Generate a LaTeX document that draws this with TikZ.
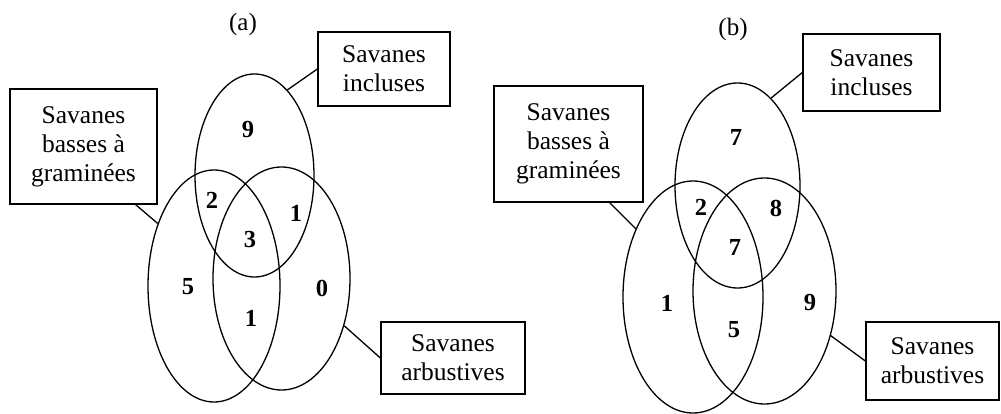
\documentclass[tikz,border=0pt]{standalone}
\usepackage{fontspec}
\setmainfont{Liberation Serif}
\usetikzlibrary{shapes.geometric}
\begin{document}
\begin{tikzpicture}[x=1pt,y=-1pt,
  venn/.style={draw, ellipse, line width=1.3pt, inner sep=0pt},
  lab/.style={draw, line width=1.3pt, align=center, inner sep=0pt,
    font=\fontsize{25.5}{29}\selectfont},
  num/.style={font=\fontsize{24.5}{28}\selectfont\bfseries, inner sep=0pt},
  ttl/.style={font=\fontsize{25}{30}\selectfont, inner sep=0pt},
  conn/.style={line width=1.3pt}]
\useasboundingbox (0,0) rectangle (1001,414);
% ---------- panel (a)
\node[ttl] (ta) at (243,24) {(a)};
\node[venn, minimum width=119pt, minimum height=203pt] (aI) at (254.5,175.5) {};
\node[venn, minimum width=132pt, minimum height=232pt] (aB) at (214,286) {};
\node[venn, minimum width=137pt, minimum height=223pt] (aA) at (281.5,278.5) {};
\node[lab, minimum width=132pt, minimum height=74pt] (laI) at (384,69) {Savanes\\incluses};
\node[lab, minimum width=147pt, minimum height=115pt] (laB) at (83.5,146.5) {Savanes\\basses à\\graminées};
\node[lab, minimum width=144pt, minimum height=72pt] (laA) at (453,358) {Savanes\\arbustives};
\draw[conn] (aI.69.6) -- (laI.west);
\draw[conn] (aB.132.6) -- ([xshift=-22pt]laB.south east);
\draw[conn] (aA.-37) -- (laA.west);
\node[num] (a9) at (248,130) {9};
\node[num] (a2) at (212,200) {2};
\node[num] (a1t) at (296,213) {1};
\node[num] (a3) at (250,240) {3};
\node[num] (a5) at (188,287) {5};
\node[num] (a0) at (322,288) {0};
\node[num] (a1b) at (251,318) {1};
% ---------- panel (b)
\node[ttl] (tb) at (733,29) {(b)};
\node[venn, minimum width=125pt, minimum height=205pt] (bI) at (737.5,185.5) {};
\node[venn, minimum width=140pt, minimum height=232pt] (bB) at (693,297) {};
\node[venn, minimum width=143pt, minimum height=226pt] (bA) at (764.5,291) {};
\node[lab, minimum width=137pt, minimum height=77pt] (lbI) at (871.5,72.5) {Savanes\\incluses};
\node[lab, minimum width=149pt, minimum height=116pt] (lbB) at (568.5,144) {Savanes\\basses à\\graminées};
\node[lab, minimum width=133pt, minimum height=78pt] (lbA) at (932.5,361) {Savanes\\arbustives};
\draw[conn] (bI.69.5) -- (lbI.west);
\draw[conn] (bB.130.4) -- ([xshift=-34pt]lbB.south east);
\draw[conn] (bA.-34.3) -- (lbA.west);
\node[num] (b7t) at (736,137) {7};
\node[num] (b2) at (701,207) {2};
\node[num] (b8) at (776,208) {8};
\node[num] (b7c) at (735,247) {7};
\node[num] (b1) at (667,303) {1};
\node[num] (b9) at (810,303) {9};
\node[num] (b5) at (734,330) {5};
\end{tikzpicture}
\end{document}
